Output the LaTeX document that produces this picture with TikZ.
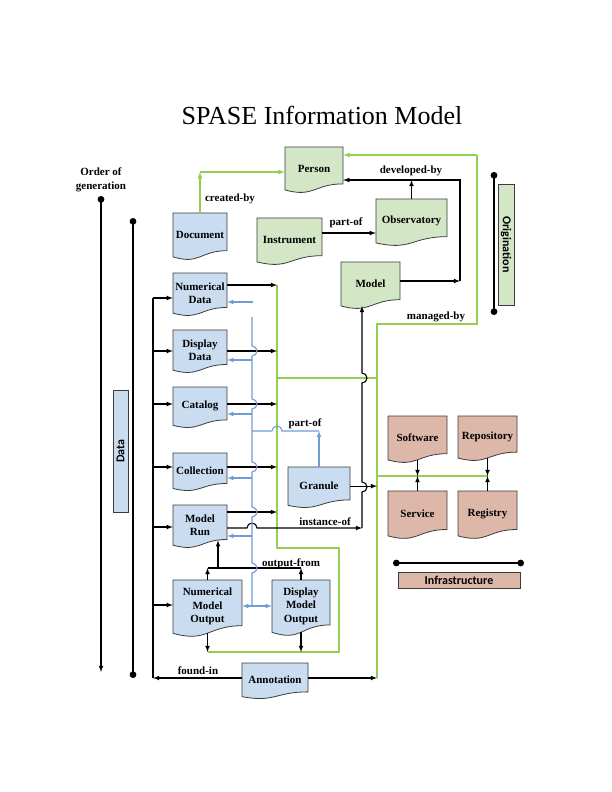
\documentclass[tikz,border=0pt]{standalone}
\usepackage{fontspec}
\setmainfont{Liberation Serif}
\newfontfamily\groupfont{Carlito}
\usetikzlibrary{arrows}
\usetikzlibrary{calc}
\definecolor{databg}{HTML}{CADCF0}
\definecolor{origbg}{HTML}{D3E6C6}
\definecolor{infbg}{HTML}{DDB8A9}
\definecolor{docedge}{HTML}{3C3C3C}
\definecolor{linkgreen}{HTML}{92D050}
\definecolor{linkblue}{HTML}{6F9BD6}
\tikzset{
	docbox/.style={inner sep=0pt, align=center, font=\bfseries\fontsize{11}{13.5}\selectfont},
	tag/.style={inner sep=0pt, align=center, font=\bfseries\fontsize{11}{13.5}\selectfont},
	groupbox/.style={draw=docedge, line width=0.8pt, inner sep=0pt, font=\groupfont\bfseries\fontsize{12}{14}\selectfont},
	wire/.style={draw=black, line width=1.1pt},
	link/.style={wire, ->, >=latex},
	bluewire/.style={draw=linkblue, line width=1.1pt},
	bluelink/.style={bluewire, ->, >=latex},
	greenwire/.style={draw=linkgreen, line width=1.2pt},
	greenlink/.style={greenwire, ->, >=latex},
	orderline/.style={draw=black, line width=1.1pt, >=latex}
}
\newcommand{\drawDoc}[7]{
	\filldraw[fill=#6, draw=docedge, line width=0.8pt] ({#2-#4/2},#3) -- ({#2+#4/2},#3) -- ({#2+#4/2},{#3+0.802*#5}) .. controls (#2,{#3+0.802*#5}) and (#2,{#3+1.107*#5}) .. ({#2-#4/2},{#3+0.934*#5}) -- cycle;
	\pgfmathsetmacro\dochgt{0.933*#5}
	\node[docbox, minimum width=#4pt, minimum height=\dochgt pt] (#1) at (#2,{#3+0.4665*#5}) {#7};
}

\begin{document}
\begin{tikzpicture}[x=1pt,y=-1pt]
		\useasboundingbox (0,0) rectangle (612,792);
		\node[font=\fontsize{26}{30}\selectfont, anchor=base] (title) at (322,124) {SPASE Information Model};

		\drawDoc{document}{200}{213}{54}{47}{databg}{Document}
		\drawDoc{person}{314}{147}{58}{46}{origbg}{Person}
		\drawDoc{instrument}{289.5}{218}{65}{47}{origbg}{Instrument}
		\drawDoc{observatory}{411.5}{199}{71}{47}{origbg}{Observatory}
		\drawDoc{model}{370.5}{262}{59}{47}{origbg}{Model}
		\drawDoc{numdata}{200}{273}{54}{43}{databg}{Numerical\\Data}
		\drawDoc{dispdata}{200}{330}{54}{43}{databg}{Display\\Data}
		\drawDoc{catalog}{200}{387}{54}{41}{databg}{Catalog}
		\drawDoc{collection}{200}{453}{54}{38}{databg}{Collection}
		\drawDoc{modelrun}{200}{505}{54}{43}{databg}{Model\\Run}
		\drawDoc{nmo}{207.5}{580}{69}{57}{databg}{Numerical\\Model\\Output}
		\drawDoc{dmo}{301}{580}{58}{56}{databg}{Display\\Model\\Output}
		\drawDoc{granule}{319}{467}{62}{41}{databg}{Granule}
		\drawDoc{annotation}{275}{663}{66}{36}{databg}{Annotation}
		\drawDoc{software}{417.5}{416}{59}{47}{infbg}{Software}
		\drawDoc{repository}{487.5}{416}{59}{45}{infbg}{Repository}
		\drawDoc{service}{417.5}{491}{59}{48}{infbg}{Service}
		\drawDoc{registry}{487.5}{491}{59}{48}{infbg}{Registry}

		\node[tag] (orderlbl) at (101,180) {Order of\\generation};
		\coordinate (orderTop) at (101,196);
		\coordinate (orderEnd) at (101,672);
		\draw[orderline, *->] (orderTop) -- (orderEnd);
		\coordinate (dataTop) at (133,218);
		\coordinate (dataEnd) at (133,678);
		\draw[orderline, *-*] (dataTop) -- (dataEnd);
		\node[groupbox, fill=databg, minimum width=122pt, minimum height=15pt, rotate=90] (datagroup) at (120.5,451) {Data};
		\coordinate (origTop) at (494,172);
		\coordinate (origEnd) at (494,315);
		\draw[orderline, *-*] (origTop) -- (origEnd);
		\node[groupbox, fill=origbg, minimum width=121pt, minimum height=16pt, rotate=-90] (origgroup) at (506,244.5) {Origination};
		\coordinate (infLeft) at (393,563);
		\coordinate (infRight) at (524,563);
		\draw[orderline, *-*] (infLeft) -- (infRight);
		\node[groupbox, fill=infbg, minimum width=122pt, minimum height=16pt] (infgroup) at (459,580) {Infrastructure};

		\coordinate (createdCorner) at (document.north |- 0,172);
		\draw[greenlink] (document.north) -- (createdCorner);
		\draw[greenlink] (createdCorner) -- (person.west |- createdCorner);
		\node[tag] (createdlbl) at (230,199) {created-by};
		\coordinate (managedTop) at (477,155);
		\coordinate (managedBend) at (477,324);
		\coordinate (gRightTop) at (377,324);
		\coordinate (gRightEnd) at (377,678);
		\draw[greenlink] (managedTop) -- (person.east |- managedTop);
		\draw[greenwire] (managedTop) -- (managedBend) -- (gRightTop) -- (gRightEnd);
		\node[tag] (managedlbl) at (436,317) {managed-by};
		\coordinate (gLeftTop) at (277,285);
		\coordinate (gLeftBend) at (277,548);
		\coordinate (gMidBend) at (339,548);
		\coordinate (gMidEnd) at (339,652);
		\draw[greenwire] (gLeftTop) -- (gLeftBend) -- (gMidBend) -- (gMidEnd) -- (nmo.south |- gMidEnd);
		\draw[greenwire] (gLeftTop |- 0,378) -- (gRightTop |- 0,378);
		\draw[greenwire] (gRightTop |- 0,476) -- (registry.north |- 0,476);

		\draw[link] (instrument.east |- 0,233) -- (observatory.west |- 0,233);
		\node[tag] (partoflbl) at (346,223) {part-of};
		\coordinate (devTop) at (460,180);
		\coordinate (devCorner) at (460,281);
		\draw[link] (observatory.north) -- (observatory.north |- devTop);
		\draw[link] (model.east |- devCorner) -- (devCorner);
		\draw[link] (devCorner) -- (devTop) -- (person.east |- devTop);
		\node[tag] (devlbl) at (411,171) {developed-by};

		\coordinate (busTop) at (153,298);
		\coordinate (busEnd) at (153,678);
		\draw[wire] (busTop) -- (busEnd);
		\draw[link] (busTop) -- (numdata.west |- busTop);
		\draw[link] (busTop |- 0,351) -- (dispdata.west |- 0,351);
		\draw[link] (busTop |- 0,404) -- (catalog.west |- 0,404);
		\draw[link] (busTop |- 0,467) -- (collection.west |- 0,467);
		\draw[link] (busTop |- 0,527) -- (modelrun.west |- 0,527);
		\draw[link] (busTop |- 0,605) -- (nmo.west |- 0,605);
		\draw[link] (annotation.west |- busEnd) -- (busEnd);
		\node[tag] (foundlbl) at (198,671) {found-in};
		\draw[link] (annotation.east |- gRightEnd) -- (gRightEnd);

		\draw[link] (numdata.east |- gLeftTop) -- (gLeftTop);
		\draw[link] (dispdata.east |- 0,351) -- (gLeftTop |- 0,351);
		\draw[link] (catalog.east |- 0,404) -- (gLeftTop |- 0,404);
		\draw[link] (collection.east |- 0,467) -- (gLeftTop |- 0,467);
		\draw[link] (modelrun.east |- 0,512) -- (gLeftTop |- 0,512);

		\coordinate (instCorner) at (362,528);
		\draw[link] (modelrun.east |- instCorner) -- (247,528) arc[start angle=180, end angle=0, radius=5pt] -- (instCorner);
		\node[tag] (instlbl) at (325,522) {instance-of};
		\draw[link] (instCorner) -- (362,492) arc[start angle=-90, end angle=90, radius=5pt] -- (362,383) arc[start angle=-90, end angle=90, radius=5pt] -- (model.south -| instCorner);
		\draw[link] (granule.east) -- (gRightTop |- granule.east);

		\coordinate (outLeft) at (nmo.north |- 0,568);
		\coordinate (outRight) at (dmo.north |- 0,568);
		\draw[link] (nmo.north) -- (outLeft);
		\draw[link] (dmo.north) -- (outRight);
		\draw[wire] (outLeft) -- (outRight);
		\draw[link] (outLeft -| 218,0) -- ([xshift=18pt,yshift=5pt]modelrun.south);
		\node[tag] (outlbl) at (291,564) {output-from};
		\draw[link] (nmo.south) -- (nmo.south |- gMidEnd);
		\draw[link] (dmo.south) -- (dmo.south |- gMidEnd);

		\draw[link] (software.south) -- (software.south |- 0,476);
		\draw[link] (service.north) -- (service.north |- 0,476);
		\draw[link] (repository.south) -- (repository.south |- 0,476);
		\draw[link] (registry.north) -- (registry.north |- 0,476);

		\coordinate (bStub) at (253,302);
		\draw[bluelink] (bStub) -- (numdata.east |- bStub);
		\coordinate (bTop) at (252,317);
		\coordinate (bEnd) at (252,606);
		\draw[bluewire] (bTop) -- (252,346) arc[start angle=90, end angle=-90, radius=5pt] -- (252,399) arc[start angle=90, end angle=-90, radius=5pt] -- (252,462) arc[start angle=90, end angle=-90, radius=5pt] -- (252,507) arc[start angle=90, end angle=-90, radius=5pt] -- (252,563) arc[start angle=90, end angle=-90, radius=5pt] -- (bEnd);
		\draw[bluelink] (bTop |- 0,360) -- (dispdata.east |- 0,360);
		\draw[bluelink] (bTop |- 0,414) -- (catalog.east |- 0,414);
		\draw[bluelink] (bTop |- 0,478) -- (collection.east |- 0,478);
		\draw[bluelink] (bTop |- 0,536) -- (modelrun.east |- 0,536);
		\coordinate (partCorner) at (granule.north |- 0,431);
		\draw[bluewire] (bTop |- partCorner) -- (272,431) arc[start angle=180, end angle=0, radius=5pt] -- (partCorner);
		\draw[bluelink] (granule.north) -- (partCorner);
		\node[tag] (partlbl) at (305,424) {part-of};
		\draw[bluelink, <->] (nmo.east |- bEnd) -- (dmo.west |- bEnd);
	\end{tikzpicture}
\end{document}
